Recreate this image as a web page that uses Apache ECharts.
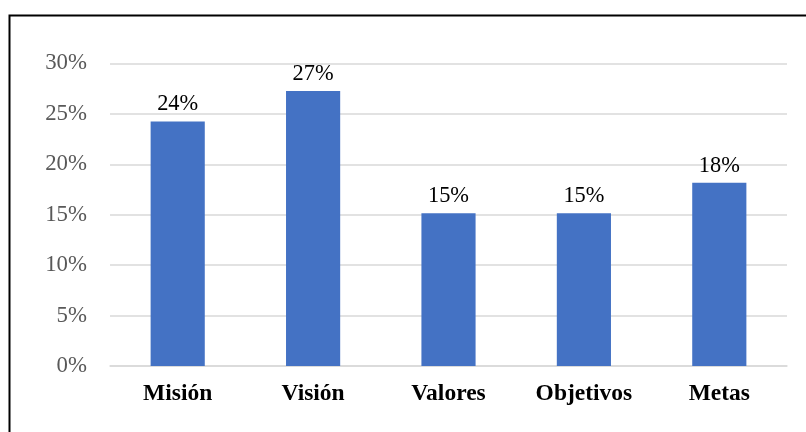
<!DOCTYPE html>
<html>
<head>
<meta charset="utf-8">
<script src="https://cdn.jsdelivr.net/npm/echarts@6/dist/echarts.min.js"></script>
<style>
html,body{margin:0;padding:0;background:#fff;}
#chart{width:806px;height:432px;}
</style>
</head>
<body>
<div id="chart"></div>
<script>
const categories = ['Misión', 'Visión', 'Valores', 'Objetivos', 'Metas'];
const values = [24.24, 27.27, 15.15, 15.15, 18.18];
const yTicks = [0, 5, 10, 15, 20, 25, 30];

const chart = echarts.init(document.getElementById('chart'));
chart.setOption({
  animation: false,
  backgroundColor: '#fff',
  graphic: [{
    type: 'rect',
    left: 7, top: 13,
    shape: { width: 830, height: 450 },
    style: { fill: 'none', stroke: '#000', lineWidth: 2 },
    silent: true
  }],
  grid: { left: 110, right: 19, top: 63.5, bottom: 66, containLabel: false },
  xAxis: {
    type: 'category',
    data: categories,
    axisLine: { show: true, lineStyle: { color: '#d9d9d9', width: 1.5 } },
    axisTick: { show: false },
    axisLabel: {
      color: '#000', fontFamily: 'Liberation Serif', fontWeight: 'bold',
      fontSize: 23.5, margin: 16
    }
  },
  yAxis: {
    type: 'value',
    min: yTicks[0], max: yTicks[yTicks.length - 1], interval: 5,
    axisLine: { show: false },
    axisTick: { show: false },
    splitLine: { lineStyle: { color: '#d9d9d9', width: 1.5 } },
    axisLabel: {
      color: '#595959', fontFamily: 'Liberation Serif', fontSize: 22.8,
      margin: 23, padding: [4, 0, 0, 0], formatter: v => v + '%'
    }
  },
  series: [{
    type: 'bar',
    data: values,
    barWidth: '40%',
    itemStyle: { color: '#4472C4' },
    label: {
      show: true, position: 'top', distance: 6,
      color: '#000', fontFamily: 'Liberation Serif', fontSize: 22.4,
      formatter: p => Math.round(p.value) + '%'
    }
  }]
});
</script>
</body>
</html>
